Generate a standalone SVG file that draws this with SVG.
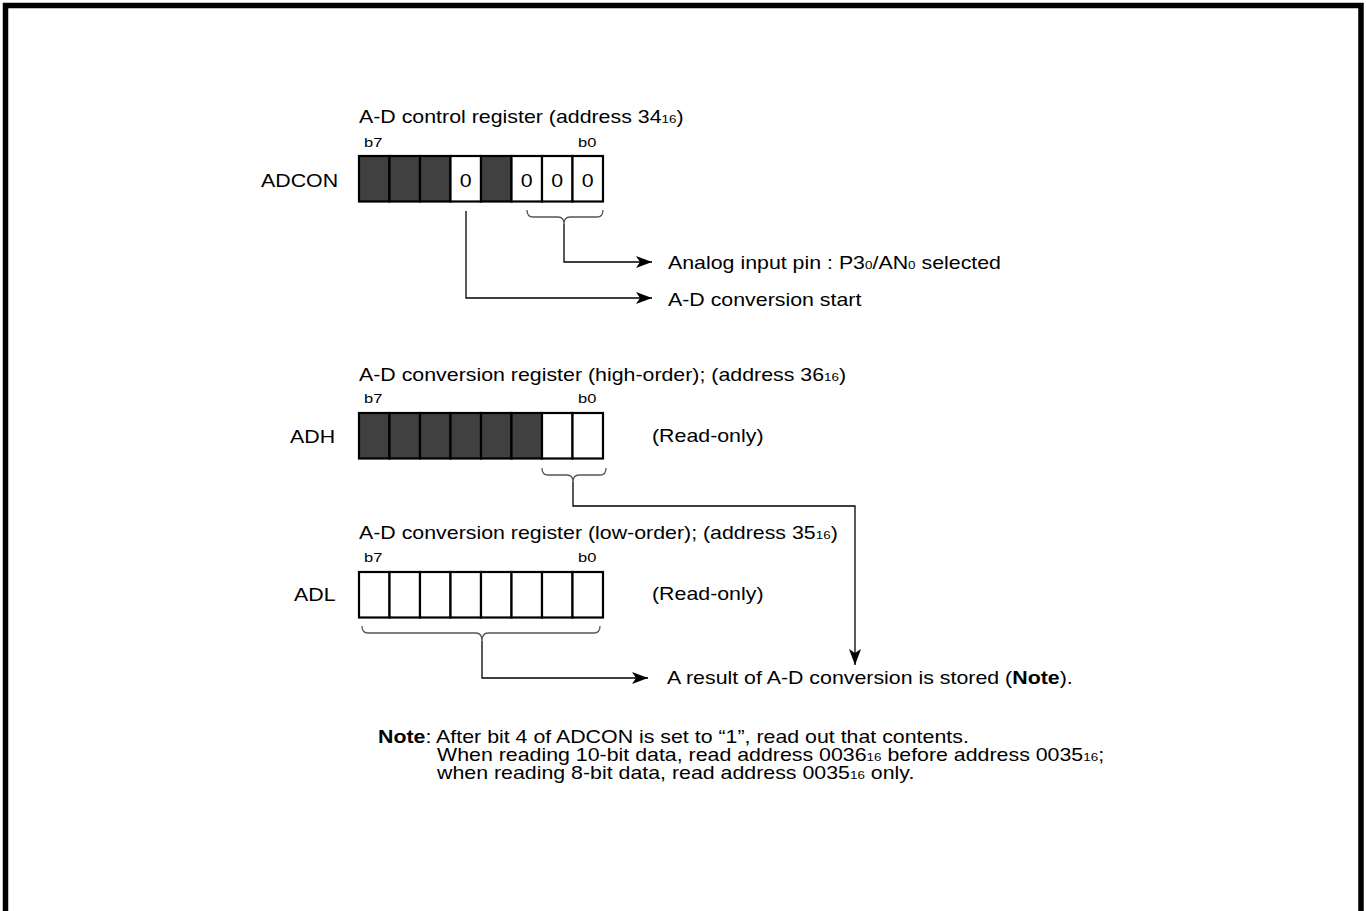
<svg xmlns="http://www.w3.org/2000/svg" width="1366" height="911" viewBox="0 0 1366 911">
<style>
  .t { font-family: "Liberation Sans", Arial, sans-serif; font-size: 17.5px; fill: #000; }
  .s { font-family: "Liberation Sans", Arial, sans-serif; font-size: 13.5px; fill: #000; }
  .sub { font-size: 11px; }
  .b { font-weight: bold; }
  .cd { fill: #404040; stroke: #000; stroke-width: 2.2; }
  .cw { fill: #fff; stroke: #000; stroke-width: 2.2; }
  .brace { fill: none; stroke: #555; stroke-width: 1.3; }
  .conn { fill: none; stroke: #000; stroke-width: 1.3; }
</style>
<defs>
  <marker id="arr" markerUnits="userSpaceOnUse" viewBox="0 0 16 12" refX="16" refY="6" markerWidth="16" markerHeight="12" orient="auto">
    <path d="M0,0 L16,6 L0,12 L4,6 Z" fill="#000"/>
  </marker>
</defs>
<rect x="0" y="0" width="1366" height="911" fill="#fff"/>
<rect x="5.5" y="5.5" width="1355.5" height="1000" fill="none" stroke="#000" stroke-width="5.5"/>

<g id="adcon">
  <text class="t" transform="translate(359,123) scale(1.22,1)">A-D control register (address 34<tspan class="sub">16</tspan>)</text>
  <text class="s" transform="translate(364,147) scale(1.22,1)">b7</text>
  <text class="s" transform="translate(578,147) scale(1.22,1)">b0</text>
  <text class="t" transform="translate(261,187) scale(1.22,1)">ADCON</text>
  <rect class="cd" x="359" y="156" width="30.5" height="45.5"/>
  <rect class="cd" x="389.5" y="156" width="30.5" height="45.5"/>
  <rect class="cd" x="420" y="156" width="30.5" height="45.5"/>
  <rect class="cw" x="450.5" y="156" width="30.5" height="45.5"/>
  <rect class="cd" x="481" y="156" width="30.5" height="45.5"/>
  <rect class="cw" x="511.5" y="156" width="30.5" height="45.5"/>
  <rect class="cw" x="542" y="156" width="30.5" height="45.5"/>
  <rect class="cw" x="572.5" y="156" width="30.5" height="45.5"/>
  <text class="t" text-anchor="middle" transform="translate(465.75,187) scale(1.22,1)">0</text>
  <text class="t" text-anchor="middle" transform="translate(526.75,187) scale(1.22,1)">0</text>
  <text class="t" text-anchor="middle" transform="translate(557.25,187) scale(1.22,1)">0</text>
  <text class="t" text-anchor="middle" transform="translate(587.75,187) scale(1.22,1)">0</text>
  <path class="brace" d="M527,210 Q527,217 533,217 L558,217 Q564,217 564,224 Q564,217 570,217 L597,217 Q603,217 603,210"/>
</g>

<g id="adcon-labels">
  <text class="t" transform="translate(668,269) scale(1.22,1)">Analog input pin : P3<tspan class="sub">0</tspan>/AN<tspan class="sub">0</tspan> selected</text>
  <text class="t" transform="translate(668,306) scale(1.22,1)">A-D conversion start</text>
</g>

<g id="adh">
  <text class="t" transform="translate(359,381) scale(1.22,1)">A-D conversion register (high-order); (address 36<tspan class="sub">16</tspan>)</text>
  <text class="s" transform="translate(364,403) scale(1.22,1)">b7</text>
  <text class="s" transform="translate(578,403) scale(1.22,1)">b0</text>
  <text class="t" transform="translate(290,443) scale(1.22,1)">ADH</text>
  <rect class="cd" x="359" y="413" width="30.5" height="45.5"/>
  <rect class="cd" x="389.5" y="413" width="30.5" height="45.5"/>
  <rect class="cd" x="420" y="413" width="30.5" height="45.5"/>
  <rect class="cd" x="450.5" y="413" width="30.5" height="45.5"/>
  <rect class="cd" x="481" y="413" width="30.5" height="45.5"/>
  <rect class="cd" x="511.5" y="413" width="30.5" height="45.5"/>
  <rect class="cw" x="542" y="413" width="30.5" height="45.5"/>
  <rect class="cw" x="572.5" y="413" width="30.5" height="45.5"/>
  <text class="t" transform="translate(652,442) scale(1.22,1)">(Read-only)</text>
  <path class="brace" d="M542,468 Q542,475 548,475 L567,475 Q573,475 573,482 Q573,475 579,475 L600,475 Q606,475 606,468"/>
</g>

<g id="adl">
  <text class="t" transform="translate(359,539) scale(1.22,1)">A-D conversion register (low-order); (address 35<tspan class="sub">16</tspan>)</text>
  <text class="s" transform="translate(364,562) scale(1.22,1)">b7</text>
  <text class="s" transform="translate(578,562) scale(1.22,1)">b0</text>
  <text class="t" transform="translate(294,601) scale(1.22,1)">ADL</text>
  <rect class="cw" x="359" y="572" width="30.5" height="45.5"/>
  <rect class="cw" x="389.5" y="572" width="30.5" height="45.5"/>
  <rect class="cw" x="420" y="572" width="30.5" height="45.5"/>
  <rect class="cw" x="450.5" y="572" width="30.5" height="45.5"/>
  <rect class="cw" x="481" y="572" width="30.5" height="45.5"/>
  <rect class="cw" x="511.5" y="572" width="30.5" height="45.5"/>
  <rect class="cw" x="542" y="572" width="30.5" height="45.5"/>
  <rect class="cw" x="572.5" y="572" width="30.5" height="45.5"/>
  <text class="t" transform="translate(652,600) scale(1.22,1)">(Read-only)</text>
  <path class="brace" d="M362,626 Q362,633 368,633 L476,633 Q482,633 482,641 Q482,633 488,633 L594,633 Q600,633 600,626"/>
</g>

<g id="result">
  <text class="t" transform="translate(667,684) scale(1.22,1)">A result of A-D conversion is stored (<tspan class="b">Note</tspan>).</text>
</g>

<g id="note">
  <text class="t" transform="translate(378,743) scale(1.22,1)"><tspan class="b">Note</tspan>: After bit 4 of ADCON is set to “1”, read out that contents.</text>
  <text class="t" transform="translate(437,761) scale(1.22,1)">When reading 10-bit data, read address 0036<tspan class="sub">16</tspan> before address 0035<tspan class="sub">16</tspan>;</text>
  <text class="t" transform="translate(437,779) scale(1.22,1)">when reading 8-bit data, read address 0035<tspan class="sub">16</tspan> only.</text>
</g>

<g id="connectors">
  <path class="conn" d="M564,224 V262 H652" marker-end="url(#arr)"/>
  <path class="conn" d="M466,211 V298 H652" marker-end="url(#arr)"/>
  <path class="conn" d="M573,482 V506 H855 V665" marker-end="url(#arr)"/>
  <path class="conn" d="M482,641 V678 H648" marker-end="url(#arr)"/>
</g>
</svg>
